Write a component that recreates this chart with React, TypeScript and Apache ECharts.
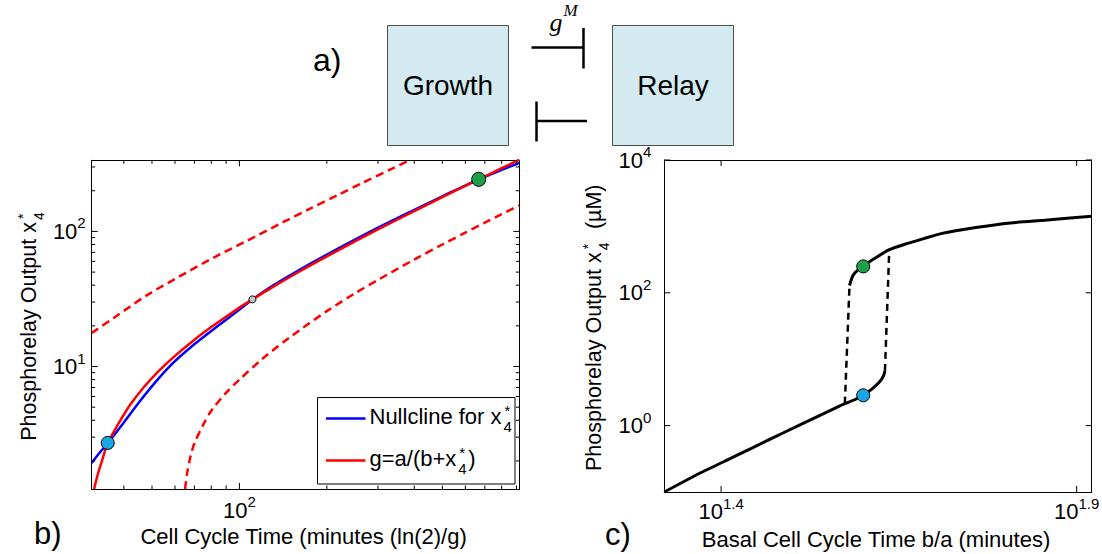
import React, { useEffect, useRef } from 'react';
import * as echarts from 'echarts';

const FONT = '"Liberation Sans", Arial, Helvetica, sans-serif';
const SERIF = '"Liberation Serif", "DejaVu Serif", serif';
const L = Math.log10;
const TICK_COLOR = '#000';
const TICK_SCALE = 1;

// ---------------- Panel b data ----------------
const bTimeRange = [31, 920];
const bOutRange = [1.24, 336];
const bXMajor = [100];
const bXMajorExp = ['2'];
const bXMinor = [40, 50, 60, 70, 80, 90, 200, 300, 400, 500, 600, 700, 800, 900];
const bYMajor = [10, 100];
const bYMajorExp = ['1', '2'];
const bYMinor = [2, 3, 4, 5, 6, 7, 8, 9, 20, 30, 40, 50, 60, 70, 80, 90, 200, 300];

// Nullcline for x4*
const nullT = [31, 33, 35.2, 40, 45, 52, 59, 68, 77.6, 90, 101.9, 110.9, 130, 160, 200, 300, 400, 500, 666.8, 800, 920];
const nullX4 = [1.93, 2.3, 2.7, 3.85, 5.4, 7.9, 10.6, 13.9, 17.4, 22.2, 27.2, 31.4, 39.6, 51.6, 67.3, 106.5, 144.5, 182, 243, 285, 321];
// g = a/(b+x4*)
const gT = [31.6, 32.5, 33.5, 35.2, 38, 42, 47, 53, 60, 70, 80, 90, 100, 110.9, 130, 160, 200, 250, 300, 400, 500, 600, 666.8, 800, 920];
const gX4 = [1.24, 1.58, 1.95, 2.7, 3.66, 5.19, 7.09, 9.37, 12.0, 15.8, 19.6, 23.4, 27.3, 31.4, 38.7, 50.1, 65.3, 84.4, 103.4, 141.4, 179.5, 217.6, 243, 293.7, 339.4];
// dashed variants
const gHighT = [31, 36.8, 47.9, 62.4, 81.3, 105.9, 138, 175, 220, 264, 330, 386];
const gHighX4 = [17.7, 22.8, 33.6, 46.6, 63.8, 85.0, 113.9, 147.2, 187.7, 227.3, 286.7, 337];
const gLowT = [65, 66, 68, 70, 75, 80, 90, 100, 120, 150, 200, 250, 300, 400, 500, 600, 700, 800, 920];
const gLowX4 = [1.24, 1.6, 2.2, 2.7, 3.7, 4.7, 6.4, 8.0, 11.4, 16.6, 25.7, 34.8, 43.8, 61.9, 80, 98, 116, 134, 156];
// fixed points
const bBlue = [35.2, 2.72];
const bGray = [110.9, 31.4];
const bGreen = [666.8, 243];

// ---------------- Panel c data ----------------
const cTimeRange = [20.9, 83.4];
const cOutRange = [0.1, 10000];
const cXMajorExp = [1.4, 1.9];
const cYMajorExp = [0, 2, 4];
const lowT = [20.9, 23.4, 26.2, 29.3, 32.7, 36.6, 37.5, 38.7, 39.8, 41.0, 42.0, 42.5, 42.7];
const lowX4 = [0.1, 0.19, 0.34, 0.61, 1.07, 1.9, 2.14, 2.45, 2.86, 3.6, 4.6, 5.6, 6.68];
const upT = [38.07, 38.5, 39.2, 39.8, 40.9, 43.3, 45.8, 48.4, 51.2, 57.3, 64.1, 71.6, 83.4];
const upX4 = [129, 182, 225, 250, 308, 446, 550, 655, 778, 960, 1128, 1238, 1422];
const jumpLeftT = [37.5, 38.07];
const jumpLeftX4 = [2.14, 129];
const jumpRightT = [42.7, 43.3];
const jumpRightX4 = [6.68, 446];
const cBlue = [39.8, 2.86];
const cGreen = [39.8, 250];

const toPts = (xs: number[], ys: number[]) => xs.map((x, i) => [L(x), L(ys[i])]);

let _ctx: CanvasRenderingContext2D | null = null;
function measure(text: string, size: number): number {
  if (!_ctx) _ctx = document.createElement('canvas').getContext('2d');
  if (!_ctx) return text.length * size * 0.5;
  _ctx.font = `${size}px ${FONT}`;
  return _ctx.measureText(text).width;
}

const richLabel = {
  b: { fontSize: 22, fontFamily: FONT, color: '#000', lineHeight: 32, verticalAlign: 'middle' },
  s: { fontSize: 15, fontFamily: FONT, color: '#000', lineHeight: 15, verticalAlign: 'top' },
};

function axisSet(dim: 'x' | 'y', gridIndex: number, min: number, max: number, major: number[], labels: string[], margin: number) {
  const pos = dim === 'x' ? ['bottom', 'top'] : ['left', 'right'];
  const common = {
    type: 'value', gridIndex, min, max,
    splitLine: { show: false }, splitArea: { show: false }, minorTick: { show: false },
    axisTick: { show: false },
  };
  const line = { show: true, onZero: false, lineStyle: { color: '#000', width: 1 } };
  const label = {
    show: true, customValues: major, margin, hideOverlap: false,
    formatter: (v: number) => {
      const i = major.findIndex((m) => Math.abs(m - v) < 1e-6);
      return i < 0 ? '' : `{b|10}{s|${labels[i]}}`;
    },
    rich: richLabel,
  };
  return [
    { ...common, position: pos[0], axisLine: line, axisLabel: label },
    { ...common, position: pos[1], axisLine: line, axisLabel: { show: false } },
  ];
}

// tick marks on all four sides, placed through the axis scales
function tickSeries(axisIndex: number, xr: number[], yr: number[], xMaj: number[], xMin: number[], yMaj: number[], yMin: number[]) {
  const data = [
    ...xMaj.map((v) => [v, yr[0], 6, 0]),
    ...xMin.map((v) => [v, yr[0], 3.5, 0]),
    ...yMaj.map((v) => [xr[0], v, 6, 1]),
    ...yMin.map((v) => [xr[0], v, 3.5, 1]),
  ];
  return {
    type: 'custom', xAxisIndex: axisIndex, yAxisIndex: axisIndex, silent: true, z: 5, clip: false,
    encode: { x: 0, y: 1 },
    data,
    renderItem: (_p: any, api: any) => {
      const v0 = api.value(0), v1 = api.value(1), dir = api.value(3);
      const len = api.value(2) * TICK_SCALE;
      const st = { stroke: TICK_COLOR, lineWidth: 1 };
      if (dir === 0) {
        const a = api.coord([v0, yr[0]]);
        const b = api.coord([v0, yr[1]]);
        return {
          type: 'group', children: [
            { type: 'line', shape: { x1: a[0], y1: a[1], x2: a[0], y2: a[1] - len }, style: st },
            { type: 'line', shape: { x1: b[0], y1: b[1], x2: b[0], y2: b[1] + len }, style: st },
          ],
        };
      }
      const a = api.coord([xr[0], v1]);
      const b = api.coord([xr[1], v1]);
      return {
        type: 'group', children: [
          { type: 'line', shape: { x1: a[0], y1: a[1], x2: a[0] + len, y2: a[1] }, style: st },
          { type: 'line', shape: { x1: b[0], y1: b[1], x2: b[0] - len, y2: b[1] }, style: st },
        ],
      };
    },
  };
}

function txt(x: number, y: number, text: string, size: number, align = 'left', extra: any = {}) {
  return {
    type: 'text', x, y, z: 60,
    style: { text, fontSize: size, fontFamily: FONT, fill: '#000', align, verticalAlign: 'middle', ...extra },
  };
}

// text with x_4^* : before + stacked(*,4) + after, laid out along local x
function composed(before: string, after: string, size: number, small: number) {
  const w1 = measure(before, size);
  const ws = measure('4', small);
  const w2 = after ? measure(after, size) : 0;
  const gap = 2;
  const total = w1 + gap + ws + 1 + w2;
  const x0 = -total / 2;
  const kids: any[] = [
    txt(x0, 0, before, size),
    txt(x0 + w1 + gap, size * 0.47, '4', small),
    txt(x0 + w1 + gap + 1, -size * 0.27, '*', small),
  ];
  if (after) kids.push(txt(x0 + w1 + gap + ws + 1.5, 0, after, size));
  return { kids, total };
}

function yTitle(cx: number, cy: number, before: string, after: string) {
  const { kids } = composed(before, after, 21.5, 14);
  return { type: 'group', x: cx, y: cy, rotation: Math.PI / 2, children: kids };
}

function legendRow(x: number, y: number, before: string, after: string, color: string) {
  const { kids, total } = composed(before, after, 22, 15);
  return {
    type: 'group', x: 0, y: 0, children: [
      { type: 'line', z: 55, shape: { x1: 326, y1: y + 2.5, x2: 365.5, y2: y + 2.5 }, style: { stroke: color, lineWidth: 2.5 } },
      { type: 'group', x: x + total / 2, y, children: kids },
    ],
  };
}

export default function App() {
  const ref = useRef<HTMLDivElement>(null);
  useEffect(() => {
    if (!ref.current) return;
    const chart = echarts.init(ref.current, null, { renderer: 'svg' });

    const bxr = [L(bTimeRange[0]), L(bTimeRange[1])];
    const byr = [L(bOutRange[0]), L(bOutRange[1])];
    const cxr = [L(cTimeRange[0]), L(cTimeRange[1])];
    const cyr = [L(cOutRange[0]), L(cOutRange[1])];

    const bx = axisSet('x', 0, bxr[0], bxr[1], bXMajor.map(L), bXMajorExp, 5);
    const by = axisSet('y', 0, byr[0], byr[1], bYMajor.map(L), bYMajorExp, 6);
    const cx = axisSet('x', 1, cxr[0], cxr[1], cXMajorExp, cXMajorExp.map(String), 3.5);
    const cy = axisSet('y', 1, cyr[0], cyr[1], cYMajorExp, cYMajorExp.map(String), 13);

    const lineS = (data: number[][], color: string, width: number, dashed: any, xi: number, z = 2) => ({
      type: 'line', data, xAxisIndex: xi, yAxisIndex: xi, showSymbol: false, symbol: 'none', z,
      smooth: 0.3, silent: true,
      lineStyle: { color, width, type: dashed || 'solid', cap: 'butt' },
    });
    const dot = (p: number[], color: string, size: number, xi: number) => ({
      type: 'scatter', data: [[L(p[0]), L(p[1])]], xAxisIndex: xi, yAxisIndex: xi, symbolSize: size, z: 10,
      itemStyle: { color, borderColor: '#000', borderWidth: 1, opacity: 1 },
    });

    const option: any = {
      animation: false,
      backgroundColor: '#fff',
      textStyle: { fontFamily: FONT },
      grid: [
        { left: 91.7, top: 160.3, width: 427.6, height: 328.7, containLabel: false, outerBoundsMode: 'none' },
        { left: 664.3, top: 160, width: 427.4, height: 332, containLabel: false, outerBoundsMode: 'none' },
      ],
      xAxis: [...bx, ...cx],
      yAxis: [...by, ...cy],
      series: [
        tickSeries(0, bxr, byr, bXMajor.map(L), bXMinor.map(L), bYMajor.map(L), bYMinor.map(L)),
        tickSeries(2, cxr, cyr, cXMajorExp, [], cYMajorExp, []),
        lineS(toPts(gHighT, gHighX4), '#ff0000', 2.5, [8, 5], 0),
        lineS(toPts(gLowT, gLowX4), '#ff0000', 2.5, [8, 5], 0),
        lineS(toPts(nullT, nullX4), '#0000ff', 2.5, null, 0, 3),
        lineS(toPts(gT, gX4), '#ff0000', 2.5, null, 0, 4),
        dot(bBlue, '#1aa6e2', 13, 0),
        dot(bGray, '#c4c4c4', 7, 0),
        dot(bGreen, '#1d9e48', 14, 0),
        { ...lineS(toPts(lowT, lowX4), '#000', 3, null, 2), smooth: 0.2 },
        { ...lineS(toPts(upT, upX4), '#000', 3, null, 2), smooth: 0.2 },
        { ...lineS(toPts(jumpLeftT, jumpLeftX4), '#000', 2.5, [7, 5], 2), smooth: false },
        { ...lineS(toPts(jumpRightT, jumpRightX4), '#000', 2.5, [7, 5], 2), smooth: false },
        dot(cBlue, '#1aa6e2', 13, 2),
        dot(cGreen, '#1d9e48', 13, 2),
      ],
      graphic: [
        // panel a diagram
        { type: 'rect', z: 50, shape: { x: 387.5, y: 25.5, width: 121, height: 120 }, style: { fill: '#d3eaf0', stroke: '#4d4d4d', lineWidth: 1 } },
        { type: 'rect', z: 50, shape: { x: 612.5, y: 25.5, width: 121, height: 120 }, style: { fill: '#d3eaf0', stroke: '#4d4d4d', lineWidth: 1 } },
        txt(448, 85, 'Growth', 28, 'center'),
        txt(673, 85, 'Relay', 28, 'center'),
        { type: 'line', z: 50, shape: { x1: 531.5, y1: 47.5, x2: 583.5, y2: 47.5 }, style: { stroke: '#000', lineWidth: 2.5 } },
        { type: 'line', z: 50, shape: { x1: 583.5, y1: 28, x2: 583.5, y2: 68.5 }, style: { stroke: '#000', lineWidth: 2.5 } },
        { type: 'line', z: 50, shape: { x1: 536.5, y1: 121, x2: 587, y2: 121 }, style: { stroke: '#000', lineWidth: 2.5 } },
        { type: 'line', z: 50, shape: { x1: 536.5, y1: 101.5, x2: 536.5, y2: 141.5 }, style: { stroke: '#000', lineWidth: 2.5 } },
        txt(556, 22, 'g', 26, 'center', { fontFamily: SERIF, fontStyle: 'italic' }),
        txt(570.5, 10, 'M', 17, 'center', { fontFamily: SERIF, fontStyle: 'italic' }),
        txt(313, 60, 'a)', 32, 'left'),
        txt(34, 533, 'b)', 31, 'left'),
        txt(605, 534, 'c)', 31, 'left'),
        // axis titles
        txt(303.6, 536, 'Cell Cycle Time (minutes (ln(2)/g)', 22, 'center'),
        txt(876, 539, 'Basal Cell Cycle Time b/a (minutes)', 22, 'center'),
        yTitle(29, 326, 'Phosphorelay Output x', ''),
        yTitle(594, 328, 'Phosphorelay Output x', '  (\u00b5M)'),
        // legend of panel b
        { type: 'rect', z: 52, shape: { x: 317.5, y: 397.5, width: 197.5, height: 86.5 }, style: { fill: '#fff', stroke: '#000', lineWidth: 1 } },
        legendRow(369.5, 416, 'Nullcline for x', '', '#0000ff'),
        legendRow(369.5, 458, 'g=a/(b+x', ')', '#ff0000'),
      ],
    };
    chart.setOption(option);
    return () => chart.dispose();
  }, []);
  return (
    <div
      ref={ref}
      style={{ position: 'absolute', left: 0, top: 0, width: 1102, height: 554, background: '#fff' }}
    />
  );
}
